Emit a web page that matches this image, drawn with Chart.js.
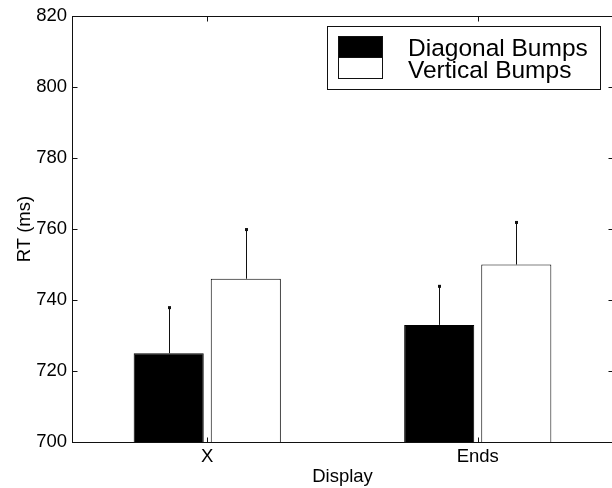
<!DOCTYPE html>
<html lang="en">

<head>
    <meta charset="UTF-8">
    <title>RT by Display</title>
    <script src="https://cdn.jsdelivr.net/npm/chart.js"></script>
    <style>
        * {
            margin: 0;
            padding: 0;
        }

        body {
            background-color: #fff;
            overflow: hidden;
        }

        #wrap {
            width: 620px;
            height: 488px;
        }
    </style>
</head>

<body>
    <div id="wrap">
        <canvas id="myChart" width="620" height="488"></canvas>
    </div>

    <script>

        // values
        const categories = ['X', 'Ends'];
        const seriesNames = ['Diagonal Bumps', 'Vertical Bumps'];
        const diagonalRT = [725, 733];
        const verticalRT = [746, 750];
        const diagonalErr = [13, 11];
        const verticalErr = [14, 12];
        const yTicks = [700, 720, 740, 760, 780, 800, 820];

        const errors = [diagonalErr, verticalErr];
        const fills = ['#000', '#fff'];
        const font = "'Liberation Sans', Arial, sans-serif";

        // box, inward ticks, error bars and the legend
        const extras = {
            id: 'extras',
            afterDraw(chart) {
                const ctx = chart.ctx;
                const a = chart.chartArea;
                const x = chart.scales.x;
                const y = chart.scales.y;
                ctx.save();
                ctx.strokeStyle = '#111';
                ctx.fillStyle = '#111';
                ctx.lineWidth = 1;

                // error bars, no caps, small dot on top
                chart.data.datasets.forEach(function (ds, i) {
                    const meta = chart.getDatasetMeta(i);
                    meta.data.forEach(function (bar, j) {
                        const bx = Math.round(bar.x) + 0.5;
                        const top = y.getPixelForValue(ds.data[j] + errors[i][j]);
                        ctx.beginPath();
                        ctx.moveTo(bx, bar.y);
                        ctx.lineTo(bx, top);
                        ctx.stroke();
                        ctx.fillRect(bx - 1.5, top - 1, 3, 3);
                    });
                });

                // axes box
                const l = Math.round(a.left) + 0.5;
                const r = Math.round(a.right) + 0.5;
                const t = Math.round(a.top) + 0.5;
                const b = Math.round(a.bottom) + 0.5;
                ctx.strokeRect(l, t, r - l, b - t);

                // inward tick marks
                const tl = 5;
                ctx.beginPath();
                yTicks.forEach(function (v) {
                    const py = Math.round(y.getPixelForValue(v)) + 0.5;
                    ctx.moveTo(l, py); ctx.lineTo(l + tl, py);
                    ctx.moveTo(r, py); ctx.lineTo(r - tl, py);
                });
                categories.forEach(function (c, i) {
                    const px = Math.round(x.getPixelForValue(i)) + 0.5;
                    ctx.moveTo(px, b); ctx.lineTo(px, b - tl);
                    ctx.moveTo(px, t); ctx.lineTo(px, t + tl);
                });
                ctx.stroke();

                // legend
                const lx = a.right - 286;
                const ly = a.top + 10;
                const lw = 273;
                const lh = 63;
                ctx.fillStyle = '#fff';
                ctx.fillRect(lx, ly, lw, lh);
                ctx.strokeRect(Math.round(lx) + 0.5, Math.round(ly) + 0.5, lw, lh);
                ctx.font = '24.5px ' + font;
                ctx.textBaseline = 'alphabetic';
                seriesNames.forEach(function (name, i) {
                    const sy = Math.round(ly) + 10 + i * 21;
                    ctx.fillStyle = fills[i];
                    ctx.fillRect(Math.round(lx) + 11, sy, 45, 21);
                    ctx.strokeRect(Math.round(lx) + 11.5, sy + 0.5, 44, 21);
                    ctx.fillStyle = '#000';
                    ctx.fillText(name, Math.round(lx) + 81, ly + 30 + i * 22);
                });
                ctx.restore();
            }
        };

        const data = {
            labels: categories,
            datasets: [{
                label: seriesNames[0],
                data: diagonalRT,
                backgroundColor: fills[0],
                borderColor: '#000',
                borderWidth: 1,
                barPercentage: 0.909,
                categoryPercentage: 0.57
            }, {
                label: seriesNames[1],
                data: verticalRT,
                backgroundColor: fills[1],
                borderColor: '#000',
                borderWidth: 1,
                barPercentage: 0.909,
                categoryPercentage: 0.57
            }]
        };

        const config = {
            type: 'bar',
            data: data,
            plugins: [extras],
            options: {
                responsive: false,
                animation: false,
                layout: {
                    padding: { top: 15, right: 7, left: 0, bottom: 0 }
                },
                plugins: {
                    legend: { display: false },
                    tooltip: { enabled: false }
                },
                scales: {
                    x: {
                        grid: { display: false, drawTicks: false },
                        border: { display: false },
                        ticks: {
                            color: '#000',
                            padding: 4,
                            font: { family: font, size: 18.5 }
                        },
                        title: {
                            display: true,
                            text: 'Display',
                            color: '#000',
                            padding: { top: 0, bottom: 0 },
                            font: { family: font, size: 18.5 }
                        },
                        afterFit: function (scale) { scale.height = 46; }
                    },
                    y: {
                        min: 700,
                        max: 820,
                        grid: { display: false, drawTicks: false },
                        border: { display: false },
                        ticks: {
                            stepSize: 20,
                            color: '#000',
                            padding: 5,
                            font: { family: font, size: 18.5 }
                        },
                        title: {
                            display: true,
                            text: 'RT (ms)',
                            color: '#000',
                            padding: { top: 14, bottom: 0 },
                            font: { family: font, size: 18.5 }
                        },
                        afterFit: function (scale) { scale.width = 72; }
                    }
                }
            }
        };

        const ctx = document.getElementById("myChart");
        const myChartInstance = new Chart(ctx, config);

    </script>
</body>

</html>
